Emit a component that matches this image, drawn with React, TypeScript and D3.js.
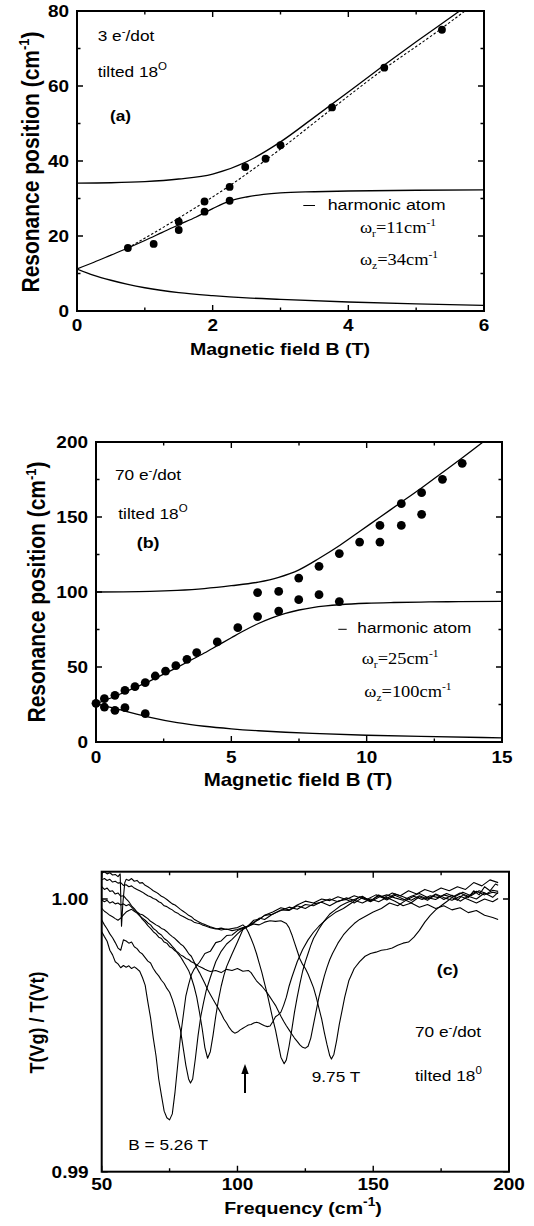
import React from 'react';
import * as d3 from 'd3';

// text in the scan is a little wider than it is tall
const SX = 1.15;
const SANS = "'Liberation Sans', Arial, Helvetica, sans-serif";
const SERIF = "'Liberation Serif', 'Times New Roman', serif";

// ---------- panel (a): 3 e-/dot ----------
const aXTicks = [0, 2, 4, 6];
const aXMinor = [1, 3, 5];
const aYTicks = [0, 20, 40, 60, 80];
const aYMinor = [10, 30, 50, 70];

const aDots: [number, number][] = [
  [0.75, 16.8], [1.13, 17.9], [1.5, 21.6], [1.5, 23.8], [1.88, 26.5], [1.88, 29.2],
  [2.25, 29.4], [2.25, 33.1], [2.48, 38.4], [2.78, 40.6], [3.0, 44.2], [3.76, 54.3],
  [4.53, 64.9], [5.38, 75.0],
];
const aUpper: [number, number][] = [
  [0, 34.1], [0.5, 34.2], [1, 34.5], [1.5, 35.2], [2, 36.5], [2.5, 39.8], [3, 45.1],
  [3.5, 51.7], [4, 58.4], [4.5, 65.2], [5, 71.8], [5.5, 78.2], [5.64, 80],
];
const aMiddle: [number, number][] = [
  [0, 11.2], [0.25, 13], [0.5, 14.9], [0.75, 16.8], [1, 18.8], [1.25, 20.9], [1.5, 23.0],
  [1.75, 25.0], [2, 27.3], [2.25, 29.3], [2.5, 30.4], [2.75, 31.1], [3, 31.5], [3.5, 31.8],
  [4, 32.0], [5, 32.2], [6, 32.3],
];
const aLower: [number, number][] = [
  [0, 11.2], [0.25, 9.5], [0.5, 8.2], [0.75, 7.1], [1, 6.2], [1.5, 4.9], [2, 4.1],
  [2.5, 3.5], [3, 3.1], [4, 2.4], [5, 1.9], [6, 1.5],
];
const aDashed: [number, number][] = [
  [0.75, 16.8], [1.5, 24.8], [2.25, 33.4], [3, 43.2], [3.75, 53.8], [4.5, 64.2],
  [5.25, 73.7], [5.72, 80],
];

// ---------- panel (b): 70 e-/dot ----------
const bXTicks = [0, 5, 10, 15];
const bXMinor = [2.5, 7.5, 12.5];
const bYTicks = [0, 50, 100, 150, 200];
const bYMinor = [25, 75, 125, 175];

const bDots: [number, number][] = [
  [0, 25.8], [0.31, 28.9], [0.31, 23.3], [0.7, 31.1], [0.7, 21.1], [1.07, 34.4], [1.07, 22.9],
  [1.44, 36.9], [1.82, 39.6], [1.82, 18.9], [2.19, 44], [2.57, 47.3], [2.95, 50.9],
  [3.36, 55.1], [3.72, 59.6], [4.48, 66.7], [5.24, 76.2], [5.97, 83.6], [5.97, 99.6],
  [6.75, 87.3], [6.75, 100.4], [7.49, 94.9], [7.49, 109.3], [8.24, 98.2], [8.24, 117.1],
  [8.99, 93.6], [8.99, 125.6], [9.74, 133.3], [10.49, 133.3], [10.49, 144.4],
  [11.28, 144.4], [11.28, 158.9], [12.03, 151.8], [12.03, 166.2], [12.8, 175.1],
  [13.53, 185.8],
];
const bUpper: [number, number][] = [
  [0, 100], [1, 100.1], [2, 100.4], [3, 101.1], [4, 102.3], [5, 104.2], [6, 106.6],
  [6.75, 109.8], [7.5, 114.8], [8.25, 122.5], [9, 131], [9.75, 140.5], [10.5, 150],
  [11.25, 159.5], [12, 169], [12.75, 179], [13.5, 189], [14.3, 200],
];
const bMiddle: [number, number][] = [
  [0, 25.5], [0.5, 29], [1, 32.8], [1.5, 36.7], [2, 40.8], [2.5, 45.2], [3, 49.8],
  [3.5, 54.5], [4, 59.3], [4.5, 64.4], [5, 69.5], [5.5, 74.5], [6, 79], [6.5, 82.8],
  [7, 85.8], [7.5, 88], [8, 89.6], [8.5, 90.7], [9, 91.5], [10, 92.5], [11, 93],
  [12, 93.3], [13, 93.5], [15, 93.7],
];
const bLower: [number, number][] = [
  [0, 25.5], [0.5, 23.2], [1, 21], [1.5, 18.6], [2, 16.4], [3, 12.9], [4, 10.5],
  [5, 8.8], [6, 7.5], [7, 6.5], [8, 5.7], [10, 4.5], [12, 3.7], [15, 2.8],
];

// ---------- panel (c): spectra ----------
const cXTicks = [50, 100, 150, 200];
const cXMinor = [75, 125, 175];
const cYTicks = [0.99, 1.0];
const cYLabels = ['0.99', '1.00'];

const spec526: [number, number][] = [
  [50, 0.9988], [51, 0.99862], [52, 0.99845], [53, 0.99812], [54, 0.99795], [55, 0.9977],
  [56, 0.99762], [57, 0.99748], [58, 0.99756], [59, 0.9975], [60, 0.99755], [61, 0.99745],
  [62, 0.99751], [63, 0.99744], [64, 0.99735], [65, 0.99712], [66, 0.99684], [67, 0.99622],
  [68, 0.99564], [69, 0.9949], [70, 0.99425], [71, 0.9934], [72, 0.9928], [73, 0.99222],
  [74, 0.99198], [75, 0.9919], [76, 0.99212], [77, 0.99292], [78, 0.99392], [79, 0.99494],
  [80, 0.9957], [81, 0.99645], [82, 0.99686], [83, 0.99722], [84, 0.99742], [85, 0.99756],
  [86, 0.99768], [88, 0.998], [90, 0.99808], [92, 0.9984], [94, 0.99846], [96, 0.99866],
  [98, 0.99868], [100, 0.99884], [102, 0.99893], [104, 0.99902], [106, 0.99922], [108, 0.99926],
  [110, 0.9994], [113, 0.99944], [116, 0.9996], [119, 0.99958], [122, 0.99975], [125, 0.99965],
  [128, 0.99982], [131, 0.99988], [134, 0.99975], [137, 0.99992], [140, 0.99998], [143, 0.99985],
  [146, 1.00005], [149, 0.99994], [152, 1.00012], [155, 0.99996], [158, 1.00014], [161, 1.0],
  [164, 0.99986], [167, 1.00008], [170, 0.99995], [173, 1.00016], [176, 0.99998], [179, 1.00014],
  [182, 0.99992], [185, 1.0001], [188, 1.0], [191, 1.00022], [194, 1.00006], [196, 1.00024],
];
const spec2: [number, number][] = [
  [50, 0.99923], [51, 0.99905], [52, 0.9989], [53, 0.99872], [54, 0.99858], [55, 0.9984],
  [56, 0.9982], [57, 0.99812], [58, 0.9985], [59, 0.99846], [60, 0.99838], [61, 0.99842],
  [62, 0.99825], [63, 0.99818], [64, 0.99805], [65, 0.99798], [66, 0.99785], [67, 0.99772],
  [68, 0.99765], [69, 0.99745], [70, 0.9973], [71, 0.99718], [72, 0.99702], [73, 0.9969],
  [74, 0.99672], [75, 0.99658], [76, 0.99632], [77, 0.996], [78, 0.9956], [79, 0.9952],
  [80, 0.99455], [81, 0.9939], [82, 0.9934], [82.7, 0.99325], [83.5, 0.9934], [84.5, 0.99415],
  [85.5, 0.995], [86.5, 0.9957], [87.5, 0.9962], [88.5, 0.99665], [90, 0.99712], [92, 0.9977],
  [94, 0.99808], [96, 0.99835], [98, 0.99852], [100, 0.99872], [102, 0.9989], [104, 0.99902],
  [106, 0.99915], [108, 0.99925], [110, 0.9994], [113, 0.99952], [116, 0.99968], [119, 0.9996],
  [122, 0.99978], [125, 0.99992], [128, 0.99985], [131, 1.0], [134, 0.99994], [137, 1.00008],
  [140, 0.99998], [143, 1.00012], [146, 1.00002], [149, 0.9999], [152, 1.00006], [155, 1.00015],
  [158, 1.00004], [161, 0.99995], [164, 1.0001], [167, 1.0002], [170, 1.00005], [173, 0.99998],
  [176, 1.00015], [179, 1.00006], [182, 1.00022], [185, 1.0001], [188, 1.00028], [191, 1.00015],
  [194, 1.00032], [196, 1.00028],
];
const spec3: [number, number][] = [
  [50, 0.99966], [51, 0.99955], [52, 0.99948], [53, 0.9994], [54, 0.99935], [55, 0.99928],
  [56, 0.99922], [57, 0.9993], [58, 0.99942], [59, 0.99952], [60, 0.99958], [61, 0.99962],
  [62, 0.99955], [63, 0.99948], [64, 0.99938], [65, 0.9993], [66, 0.99922], [67, 0.99912],
  [68, 0.99905], [69, 0.99892], [70, 0.99885], [71, 0.99874], [72, 0.99868], [73, 0.99855],
  [74, 0.99848], [75, 0.99838], [76, 0.99826], [77, 0.99815], [78, 0.998], [79, 0.99788],
  [80, 0.99772], [81, 0.99755], [82, 0.99738], [83, 0.99712], [84, 0.9968], [85, 0.9964],
  [86, 0.99585], [87, 0.99525], [88, 0.99455], [89, 0.99416], [90, 0.9944], [91, 0.995],
  [92, 0.9957], [93, 0.9963], [94, 0.9968], [95, 0.9972], [96, 0.99752], [97, 0.99775],
  [98, 0.99798], [100, 0.99842], [102, 0.99888], [104, 0.999], [106, 0.99912], [108, 0.9993],
  [110, 0.99925], [113, 0.99945], [116, 0.99958], [119, 0.9997], [122, 0.99962], [125, 0.9998],
  [128, 0.99975], [131, 0.9999], [134, 1.0], [137, 0.9999], [140, 1.00004], [143, 0.99995],
  [146, 0.99985], [149, 1.0], [152, 0.9999], [155, 1.00005], [158, 0.99992], [161, 0.99975],
  [164, 0.99985], [167, 0.9997], [170, 0.9998], [173, 0.99965], [176, 0.99975], [179, 0.9996],
  [182, 0.99968], [185, 0.9995], [188, 0.99958], [191, 0.9994], [194, 0.99932], [196, 0.99925],
];
const spec4: [number, number][] = [
  [50, 0.99996], [51, 0.9999], [52, 0.99995], [53, 0.99985], [54, 0.9999], [55, 0.99982],
  [56, 0.99985], [57, 0.99978], [58, 0.99982], [59, 0.99975], [60, 0.9998], [61, 0.9997],
  [62, 0.9996], [63, 0.99952], [64, 0.99945], [65, 0.99942], [66, 0.99935], [67, 0.99928],
  [68, 0.99918], [69, 0.99912], [70, 0.99905], [71, 0.999], [72, 0.99892], [73, 0.99888],
  [74, 0.9988], [75, 0.9987], [76, 0.99862], [77, 0.99855], [78, 0.99845], [79, 0.99835],
  [80, 0.99828], [81, 0.99815], [82, 0.998], [83, 0.9979], [84, 0.9977], [85, 0.99748],
  [86, 0.9973], [87, 0.9971], [88, 0.9969], [89, 0.99668], [90, 0.9965], [91, 0.99632],
  [92, 0.99615], [93, 0.99598], [94, 0.9958], [95, 0.9956], [96, 0.99545], [97, 0.99528],
  [98, 0.99515], [99, 0.99508], [100, 0.99512], [101, 0.9952], [102, 0.99526], [103, 0.99532],
  [104, 0.99538], [105, 0.9954], [106, 0.99545], [107, 0.99548], [108, 0.99545], [109, 0.9954],
  [110, 0.99535], [111, 0.99532], [112, 0.99534], [113, 0.9955], [114, 0.99568], [115, 0.99575],
  [116, 0.99585], [117, 0.9961], [118, 0.9964], [119, 0.9968], [120, 0.99712], [122, 0.9977],
  [124, 0.99815], [126, 0.9985], [128, 0.99878], [130, 0.999], [133, 0.99928], [136, 0.9995],
  [139, 0.99965], [142, 0.99985], [145, 1.00008], [148, 1.0], [151, 1.00015], [154, 1.00005],
  [157, 1.00022], [160, 1.00012], [163, 1.0003], [166, 1.00018], [169, 1.00035], [172, 1.00025],
  [175, 1.0004], [178, 1.0003], [181, 1.00045], [184, 1.00035], [187, 1.0006], [190, 1.00048],
  [193, 1.0007], [196, 1.0006],
];
const spec5: [number, number][] = [
  [50, 1.00045], [51, 1.00035], [52, 1.0004], [53, 1.00028], [54, 1.0003], [55, 1.00018],
  [56, 1.00022], [57, 1.0001], [58, 1.00012], [59, 1.0], [60, 0.9999], [61, 0.99975],
  [62, 0.99965], [63, 0.99952], [64, 0.9994], [65, 0.99925], [66, 0.99915], [67, 0.99902],
  [68, 0.99892], [69, 0.9988], [70, 0.99872], [71, 0.9986], [72, 0.99855], [73, 0.99842],
  [74, 0.99838], [75, 0.99825], [76, 0.9982], [77, 0.9981], [78, 0.99805], [79, 0.99795],
  [80, 0.9979], [81, 0.99782], [82, 0.99778], [83, 0.9977], [84, 0.99765], [85, 0.99758],
  [86, 0.99752], [87, 0.99748], [88, 0.99742], [89, 0.99738], [90, 0.99734], [92, 0.99738],
  [94, 0.9973], [96, 0.99742], [98, 0.99738], [100, 0.99745], [102, 0.99735], [104, 0.99738],
  [105, 0.9973], [106, 0.99715], [107, 0.997], [108, 0.9969], [109, 0.9968], [110, 0.99668],
  [111, 0.99655], [112, 0.9964], [113, 0.99625], [114, 0.9961], [115, 0.9959], [116, 0.9957],
  [117, 0.99552], [118, 0.99535], [119, 0.9952], [120, 0.99505], [121, 0.9949], [122, 0.99478],
  [123, 0.99465], [124, 0.99456], [125, 0.99453], [126, 0.9946], [127, 0.9949], [128, 0.9954],
  [129, 0.9959], [130, 0.9964], [131, 0.9968], [132, 0.99718], [133, 0.9975], [134, 0.99778],
  [135, 0.998], [137, 0.99838], [139, 0.99868], [141, 0.9989], [143, 0.9991], [145, 0.99925],
  [147, 0.99936], [150, 0.99952], [153, 0.99965], [156, 0.99985], [159, 0.99975], [162, 0.99995],
  [165, 1.0001], [168, 0.99998], [171, 1.00012], [174, 1.00005], [177, 1.0002], [180, 1.00008],
  [183, 1.00025], [186, 1.00012], [189, 1.0003], [192, 1.00018], [194, 1.00025], [196, 1.0002],
];
const spec6: [number, number][] = [
  [50, 1.0007], [51, 1.00075], [52, 1.00068], [53, 1.00072], [54, 1.00062], [55, 1.00065],
  [56, 1.00058], [57, 1.0006], [58, 1.0005], [59, 1.00052], [60, 1.00045], [61, 1.00048],
  [62, 1.0004], [63, 1.00035], [64, 1.0003], [65, 1.00025], [66, 1.00018], [67, 1.00012],
  [68, 1.00008], [69, 1.00002], [70, 0.99998], [71, 0.9999], [72, 0.99985], [73, 0.99975],
  [74, 0.99972], [75, 0.99965], [76, 0.9996], [77, 0.99952], [78, 0.99948], [79, 0.9994],
  [80, 0.99936], [81, 0.9993], [82, 0.99925], [83, 0.99922], [84, 0.99915], [85, 0.99912],
  [86, 0.9991], [87, 0.99905], [88, 0.99902], [89, 0.99898], [90, 0.99895], [92, 0.9989],
  [94, 0.99893], [96, 0.99888], [98, 0.99892], [100, 0.99895], [101, 0.999], [102, 0.99905],
  [103, 0.99896], [104, 0.99878], [105, 0.99855], [106, 0.9983], [107, 0.998], [108, 0.99765],
  [109, 0.9973], [110, 0.9969], [111, 0.9965], [112, 0.99605], [113, 0.9956], [114, 0.9952],
  [115, 0.9947], [116, 0.9942], [117.2, 0.99396], [118, 0.9941], [119, 0.9946], [120, 0.9952],
  [121, 0.99585], [122, 0.9964], [123, 0.9969], [124, 0.99735], [125, 0.9977], [126, 0.998],
  [127, 0.9983], [128, 0.99855], [130, 0.9989], [132, 0.9992], [134, 0.99945], [136, 0.9996],
  [138, 0.99975], [140, 0.99985], [143, 0.99998], [146, 1.0001], [149, 0.99992], [152, 1.00015],
  [155, 1.00002], [158, 1.00018], [161, 1.00008], [164, 0.99995], [167, 1.00012], [170, 1.0],
  [173, 1.00018], [176, 1.00005], [179, 0.99995], [182, 1.0001], [185, 0.99998], [188, 0.99985],
  [191, 1.0], [194, 0.9999], [196, 1.00002],
];
const spec975: [number, number][] = [
  [50, 1.00094], [51, 1.001], [52, 1.00092], [53, 1.00096], [54, 1.00088], [55, 1.0009],
  [56, 1.00082], [56.8, 1.00092], [57.3, 0.999], [57.8, 0.99985], [58.5, 1.0006], [59, 1.00072],
  [60, 1.00068], [61, 1.00075], [62, 1.00065], [63, 1.00068], [64, 1.00058], [65, 1.0006],
  [66, 1.0005], [67, 1.00045], [68, 1.00038], [69, 1.0003], [70, 1.00025], [71, 1.00018],
  [72, 1.0001], [73, 1.00005], [74, 0.99998], [75, 0.9999], [76, 0.99982], [77, 0.99978],
  [78, 0.9997], [79, 0.99962], [80, 0.99955], [81, 0.99948], [82, 0.9994], [83, 0.99935],
  [84, 0.99926], [85, 0.9992], [86, 0.99915], [87, 0.9991], [88, 0.99906], [89, 0.99902],
  [90, 0.99898], [92, 0.99892], [94, 0.99886], [96, 0.9989], [98, 0.99884], [100, 0.99888],
  [102, 0.99895], [104, 0.999], [106, 0.99908], [108, 0.99905], [110, 0.99915], [112, 0.9992],
  [114, 0.99918], [116, 0.9992], [118, 0.9991], [119, 0.99895], [120, 0.9987], [121, 0.9984],
  [122, 0.9981], [123, 0.9978], [124, 0.9976], [125, 0.99745], [126, 0.99725], [127, 0.997],
  [128, 0.99675], [129, 0.9964], [130, 0.996], [131, 0.9956], [132, 0.9951], [133, 0.99465],
  [134, 0.99425], [134.6, 0.99413], [135.5, 0.9943], [136.5, 0.9948], [137.5, 0.9954],
  [138.5, 0.9959], [139.5, 0.9964], [141, 0.997], [143, 0.99745], [145, 0.9977], [147, 0.9979],
  [149, 0.998], [151, 0.99805], [153, 0.99812], [155, 0.99815], [157, 0.9982], [159, 0.9983],
  [161, 0.99838], [163, 0.99842], [165, 0.9986], [167, 0.99885], [169, 0.99915], [171, 0.9994],
  [173, 0.9996], [175, 0.99975], [177, 0.9999], [179, 1.00005], [181, 0.99995], [183, 1.00015],
  [185, 1.00005], [187, 1.0003], [189, 1.00015], [191, 1.00045], [193, 1.0003], [195, 1.00055],
  [196, 1.0005],
];
const spectra = [spec526, spec2, spec3, spec4, spec5, spec6, spec975];

// ---------- layout ----------
const xA = d3.scaleLinear().domain([0, 6]).range([77, 484]);
const yA = d3.scaleLinear().domain([0, 80]).range([311, 11]);
const xB = d3.scaleLinear().domain([0, 15]).range([96, 502]);
const yB = d3.scaleLinear().domain([0, 200]).range([742, 442]);
const xC = d3.scaleLinear().domain([50, 200]).range([101.7, 509]);
const yC = d3.scaleLinear().domain([0.99, 1.001]).range([1171.7, 871.7]);

type Sc = d3.ScaleLinear<number, number>;

function Label(props: {
  x: number; y: number; size?: number; bold?: boolean; serif?: boolean;
  anchor?: string; rot?: boolean; children: React.ReactNode;
}) {
  const { x, y, size = 15, bold = false, serif = false, anchor = 'start', rot = false } = props;
  return (
    <g transform={`translate(${x},${y}) scale(${SX},1)${rot ? ' rotate(-90)' : ''}`}>
      <text textAnchor={anchor} fontSize={size} fontWeight={bold ? 'bold' : 'normal'}
        fontFamily={serif ? SERIF : SANS} fill="#000">{props.children}</text>
    </g>
  );
}

function Frame(props: {
  x: Sc; y: Sc; xt: number[]; xm: number[]; yt: number[]; ym: number[];
  xl: string[]; yl: string[]; xlY: number; ylX: number; size: number;
}) {
  const { x, y, xt, xm, yt, ym } = props;
  const [x0, x1] = x.range();
  const [y0, y1] = y.range();
  const L = 6, l = 3.5;
  const segs: string[] = [];
  xt.forEach(v => { segs.push(`M${x(v)},${y0}v${-L}M${x(v)},${y1}v${L}`); });
  xm.forEach(v => { segs.push(`M${x(v)},${y0}v${-l}M${x(v)},${y1}v${l}`); });
  yt.forEach(v => { segs.push(`M${x0},${y(v)}h${L}M${x1},${y(v)}h${-L}`); });
  ym.forEach(v => { segs.push(`M${x0},${y(v)}h${l}M${x1},${y(v)}h${-l}`); });
  return (
    <g>
      <rect x={x0} y={y1} width={x1 - x0} height={y0 - y1} fill="none" stroke="#000" strokeWidth={2} />
      <path d={segs.join('')} stroke="#000" strokeWidth={1.4} fill="none" />
      {xt.map((v, i) => (
        <Label key={'x' + i} x={x(v)} y={props.xlY} size={props.size} bold anchor="middle">{props.xl[i]}</Label>
      ))}
      {yt.map((v, i) => (
        <Label key={'y' + i} x={props.ylX} y={y(v) + props.size * 0.36} size={props.size} bold anchor="end">{props.yl[i]}</Label>
      ))}
    </g>
  );
}

function smooth(x: Sc, y: Sc) {
  return d3.line<[number, number]>().x(d => x(d[0])).y(d => y(d[1])).curve(d3.curveMonotoneX);
}

export default function App() {
  const la = smooth(xA, yA);
  const lb = smooth(xB, yB);
  const lc = d3.line<[number, number]>().x(d => xC(d[0])).y(d => yC(d[1]));
  return (
    <svg width={534} height={1226} style={{ position: 'absolute', left: 0, top: 0, background: '#fff' }}>
      <defs>
        <clipPath id="ca"><rect x={77} y={11} width={407} height={300} /></clipPath>
        <clipPath id="cb"><rect x={96} y={442} width={406} height={300} /></clipPath>
        <clipPath id="cc"><rect x={101.7} y={871.7} width={407.3} height={300} /></clipPath>
      </defs>
      <rect width={534} height={1226} fill="#fff" />

      {/* ---------- (a) ---------- */}
      <g clipPath="url(#ca)" fill="none" stroke="#000" strokeWidth={1.3}>
        <path d={la(aUpper) || ''} />
        <path d={la(aMiddle) || ''} />
        <path d={la(aLower) || ''} />
        <path d={la(aDashed) || ''} strokeDasharray="2.5,2" strokeWidth={1.1} />
      </g>
      {aDots.map((d, i) => <circle key={i} cx={xA(d[0])} cy={yA(d[1])} r={3.9} fill="#000" />)}
      <Frame x={xA} y={yA} xt={aXTicks} xm={aXMinor} yt={aYTicks} ym={aYMinor}
        xl={aXTicks.map(String)} yl={aYTicks.map(String)} xlY={330.7} ylX={69} size={16.5} />
      <Label x={97.7} y={40.5} size={15}>3 e<tspan dy={-6} fontSize={10}>-</tspan><tspan dy={6}>/dot</tspan></Label>
      <Label x={97.7} y={77.3} size={15}>tilted 18<tspan dy={-7} fontSize={10}>O</tspan></Label>
      <Label x={110} y={120.5} size={15} bold>(a)</Label>
      <line x1={303.3} x2={315} y1={205.5} y2={205.5} stroke="#000" strokeWidth={1} />
      <Label x={327.7} y={210} size={15.5}>harmonic atom</Label>
      <Label x={360} y={233.3} size={16} serif>ω<tspan dy={4} fontSize={10}>r</tspan><tspan dy={-4}>=11cm</tspan><tspan dy={-7} fontSize={10}>-1</tspan></Label>
      <Label x={360} y={265} size={16} serif>ω<tspan dy={4} fontSize={10}>z</tspan><tspan dy={-4}>=34cm</tspan><tspan dy={-7} fontSize={10}>-1</tspan></Label>
      <Label x={280} y={355} size={17} bold anchor="middle">Magnetic field B (T)</Label>
      <Label x={38.5} y={162} size={21} bold anchor="middle" rot>Resonance position (cm<tspan dy={-8} fontSize={13}>-1</tspan><tspan dy={8}>)</tspan></Label>

      {/* ---------- (b) ---------- */}
      <g clipPath="url(#cb)" fill="none" stroke="#000" strokeWidth={1.3}>
        <path d={lb(bUpper) || ''} />
        <path d={lb(bMiddle) || ''} />
        <path d={lb(bLower) || ''} />
      </g>
      {bDots.map((d, i) => <circle key={i} cx={xB(d[0])} cy={yB(d[1])} r={4.4} fill="#000" />)}
      <Frame x={xB} y={yB} xt={bXTicks} xm={bXMinor} yt={bYTicks} ym={bYMinor}
        xl={bXTicks.map(String)} yl={bYTicks.map(String)} xlY={763.3} ylX={88} size={16.5} />
      <Label x={115} y={480} size={15}>70 e<tspan dy={-6} fontSize={10}>-</tspan><tspan dy={6}>/dot</tspan></Label>
      <Label x={118.3} y={519.3} size={15}>tilted 18<tspan dy={-7} fontSize={10}>O</tspan></Label>
      <Label x={136.7} y={548.3} size={15.5} bold>(b)</Label>
      <line x1={338.3} x2={346.7} y1={629.3} y2={629.3} stroke="#000" strokeWidth={1} />
      <Label x={357.3} y={633.3} size={15}>harmonic atom</Label>
      <Label x={361.7} y={664.3} size={16} serif>ω<tspan dy={4} fontSize={10}>r</tspan><tspan dy={-4}>=25cm</tspan><tspan dy={-7} fontSize={10}>-1</tspan></Label>
      <Label x={364.3} y={696.7} size={16} serif>ω<tspan dy={4} fontSize={10}>z</tspan><tspan dy={-4}>=100cm</tspan><tspan dy={-7} fontSize={10}>-1</tspan></Label>
      <Label x={298} y={786} size={17.8} bold anchor="middle">Magnetic field B (T)</Label>
      <Label x={45} y={592} size={21} bold anchor="middle" rot>Resonance position (cm<tspan dy={-8} fontSize={13}>-1</tspan><tspan dy={8}>)</tspan></Label>

      {/* ---------- (c) ---------- */}
      <g clipPath="url(#cc)" fill="none" stroke="#000" strokeWidth={1.1} strokeLinejoin="round">
        {spectra.map((s, i) => <path key={i} d={lc(s) || ''} />)}
      </g>
      <Frame x={xC} y={yC} xt={cXTicks} xm={cXMinor} yt={cYTicks} ym={[]}
        xl={cXTicks.map(String)} yl={cYLabels} xlY={1190} ylX={88.5} size={16.5} />
      <line x1={245} x2={245} y1={1093} y2={1072} stroke="#000" strokeWidth={2} />
      <path d="M245,1064L241.3,1074L248.7,1074Z" fill="#000" />
      <Label x={436.7} y={975} size={15.5} bold>(c)</Label>
      <Label x={415} y={1036.7} size={15}>70 e<tspan dy={-6} fontSize={10}>-</tspan><tspan dy={6}>/dot</tspan></Label>
      <Label x={415} y={1080.7} size={15}>tilted 18<tspan dy={-7} fontSize={10}>0</tspan></Label>
      <Label x={311.7} y={1082.3} size={15}>9.75 T</Label>
      <Label x={128.3} y={1150} size={15}>B = 5.26 T</Label>
      <Label x={303} y={1214} size={17} bold anchor="middle">Frequency (cm<tspan dy={-8} fontSize={12}>-1</tspan><tspan dy={8}>)</tspan></Label>
      <Label x={44} y={1022.5} size={18} bold anchor="middle" rot>T(Vg) / T(Vt)</Label>
    </svg>
  );
}
